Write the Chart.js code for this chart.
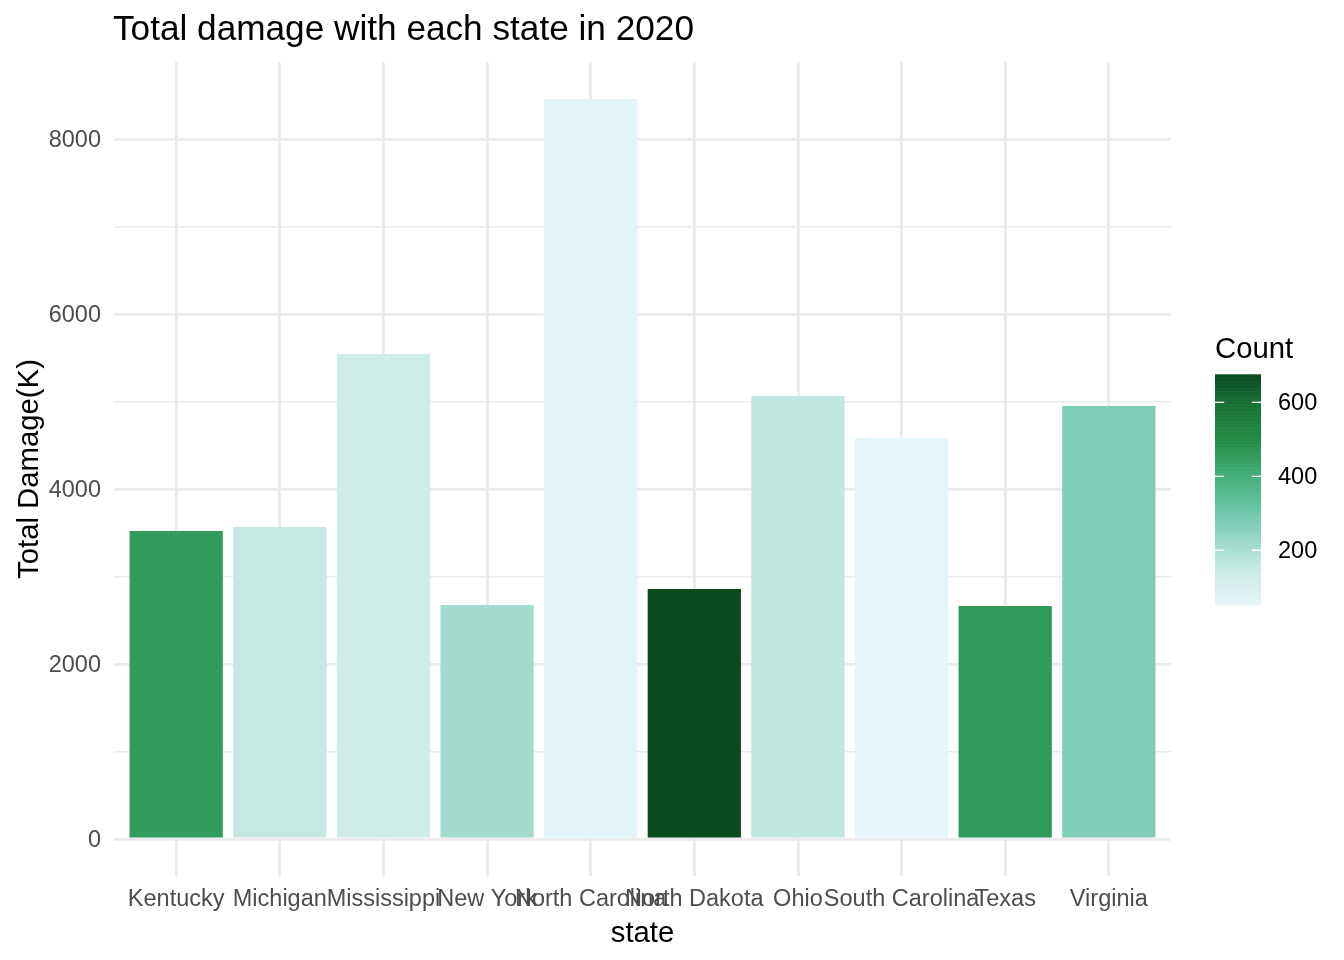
<!DOCTYPE html>
<html><head><meta charset="utf-8">
<script src="https://cdn.jsdelivr.net/npm/chart.js@4.4.0/dist/chart.umd.min.js"></script>
<style>html,body{margin:0;padding:0;background:#fff;} canvas{display:block;}</style>
</head><body>
<canvas id="c" width="1344" height="960"></canvas>
<script>
// ---- data ----
const states = ['Kentucky','Michigan','Mississippi','New York','North Carolina','North Dakota','Ohio','South Carolina','Texas','Virginia'];
const damage = [3520, 3566, 5543, 2674, 8457, 2857, 5063, 4583, 2663, 4949];
const counts = [455, 154, 131, 212, 59, 676, 160, 52, 459, 274];
const yTicks = [0, 2000, 4000, 6000, 8000];
const yMinorTicks = [1000, 3000, 5000, 7000];
const legendTicks = [200, 400, 600];

// ---- styles ----
const FONT = '"Liberation Sans", Arial, Helvetica, sans-serif';
const paletteStops = ['#E5F5F9','#CCECE6','#99D8C9','#66C2A4','#41AE76','#238B45','#1A7538','#0A4A1F'];
const cmin = Math.min(...counts), cmax = Math.max(...counts);
const ymax = Math.max(...damage);

function hexToRgb(h){ return [1,3,5].map(i=>parseInt(h.substr(i,2),16)); }
const stopRgb = paletteStops.map(hexToRgb);
function countColor(v){
  let t = (v - cmin) / (cmax - cmin);
  t = Math.max(0, Math.min(1, t));
  const n = stopRgb.length - 1;
  const p = t * n;
  const i = Math.min(n - 1, Math.floor(p));
  const f = p - i;
  const a = stopRgb[i], b = stopRgb[i+1];
  const c = a.map((x,k)=>Math.round(x + (b[k]-x)*f));
  return `rgb(${c[0]},${c[1]},${c[2]})`;
}

const bar = {left:1215, top:374.3, width:46, height:230.7};

const decor = {
  id:'decor',
  afterDraw(chart){
    const ctx = chart.ctx;
    const ca = chart.chartArea;
    ctx.save();
    // title
    ctx.fillStyle = '#000';
    ctx.font = `35.2px ${FONT}`;
    ctx.textAlign = 'left';
    ctx.textBaseline = 'alphabetic';
    ctx.fillText('Total damage with each state in 2020', 113, 40);
    // x axis title
    ctx.font = `29.3px ${FONT}`;
    ctx.textAlign = 'center';
    ctx.fillText('state', (ca.left + ca.right)/2, 942);
    // y axis title
    ctx.save();
    ctx.translate(38, (ca.top + ca.bottom)/2);
    ctx.rotate(-Math.PI/2);
    ctx.textAlign = 'center';
    ctx.textBaseline = 'alphabetic';
    ctx.fillText('Total Damage(K)', 0, 0);
    ctx.restore();
    // legend title
    ctx.textAlign = 'left';
    ctx.fillText('Count', 1215, 358);
    // colorbar
    const steps = 300;
    for (let s = 0; s < steps; s++){
      const v = cmin + (cmax - cmin) * (s + 0.5) / steps;
      const y0 = bar.top + bar.height - (s + 1) * bar.height / steps;
      ctx.fillStyle = countColor(v);
      ctx.fillRect(bar.left, y0, bar.width, bar.height/steps + 0.6);
    }
    // ticks & labels
    ctx.font = `23.5px ${FONT}`;
    ctx.textBaseline = 'middle';
    const tl = bar.width / 5;
    legendTicks.forEach(v => {
      const y = bar.top + bar.height - (v - cmin)/(cmax - cmin) * bar.height;
      ctx.strokeStyle = '#fff';
      ctx.lineWidth = 1.4;
      ctx.beginPath();
      ctx.moveTo(bar.left, y); ctx.lineTo(bar.left + tl, y);
      ctx.moveTo(bar.left + bar.width - tl, y); ctx.lineTo(bar.left + bar.width, y);
      ctx.stroke();
      ctx.fillStyle = '#000';
      ctx.fillText(String(v), 1278, y + 1);
    });
    ctx.restore();
  }
};

new Chart(document.getElementById('c'), {
  type:'bar',
  data:{
    datasets:[{
      data: states.map((s,i)=>({x:i, y:damage[i]})),
      backgroundColor: counts.map(countColor),
      borderWidth:0,
      categoryPercentage:0.9,
      barPercentage:1
    }]
  },
  options:{
    responsive:false,
    animation:false,
    devicePixelRatio:1,
    layout:{padding:{left:0, top:62, right:173, bottom:0}},
    plugins:{legend:{display:false}, tooltip:{enabled:false}, title:{display:false}},
    scales:{
      x:{
        type:'linear', min:-0.6, max:states.length - 1 + 0.6, offset:false,
        afterBuildTicks: s => { s.ticks = states.map((_,i)=>({value:i})); },
        afterFit: s => { s.height = 84; },
        grid:{color:'#EBEBEB', lineWidth:2.85, drawTicks:false, offset:false},
        border:{display:false},
        ticks:{autoSkip:false, maxRotation:0, minRotation:0, padding:9, color:'#4D4D4D',
          font:{family:FONT, size:23.5}, callback: v => states[v] ?? ''}
      },
      y:{
        type:'linear', min:-0.05*ymax, max:1.05*ymax,
        afterBuildTicks: s => { s.ticks = yTicks.concat(yMinorTicks).sort((a,b)=>a-b).map(v=>({value:v})); },
        afterFit: s => { s.width = 114; },
        grid:{color:'#EBEBEB', lineWidth: c => (c.tick && yTicks.includes(c.tick.value)) ? 2.85 : 1.42, drawTicks:false},
        border:{display:false},
        ticks:{padding:13, labelOffset:1.5, color:'#4D4D4D', font:{family:FONT, size:23.5},
          callback: v => yTicks.includes(v) ? String(v) : ''}
      }
    }
  },
  plugins:[decor]
});
</script>
</body></html>
